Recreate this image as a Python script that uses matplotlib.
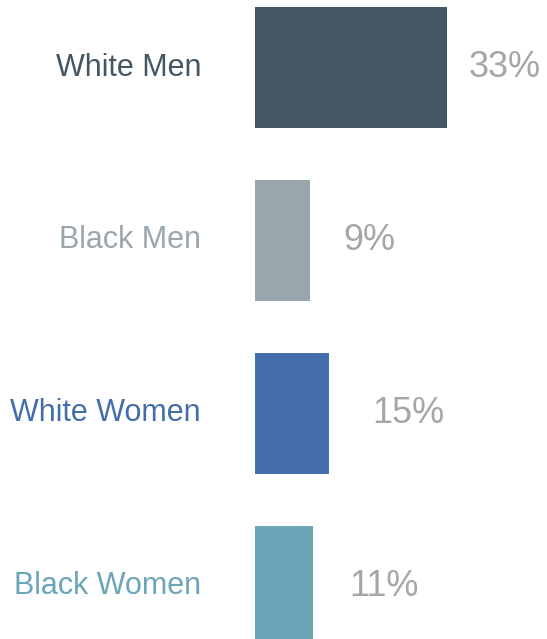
import matplotlib
matplotlib.use("Agg")
import matplotlib.pyplot as plt

categories = ["White Men", "Black Men", "White Women", "Black Women"]
share_labels = ["33%", "9%", "15%", "11%"]
bar_lengths = [33, 9.45, 12.7, 9.97]
colors = ["#435663", "#9aa6ae", "#446dab", "#6aa5b8"]
label_pads = [22, 33, 43, 36]

DPI = 72
W, H = 547, 639
fig = plt.figure(figsize=(W / DPI, H / DPI), dpi=DPI)
ax = fig.add_axes([255 / W, 0, 1 - 255 / W, 1])
ax.set_xlim(0, 292 / (192 / 33))
ax.set_ylim((639 - 67.5) / 173, -67.5 / 173)
ax.axis("off")

ypos = list(range(len(categories)))
ax.barh(ypos, bar_lengths, height=0.70, color=colors, align="center")

font = "Liberation Sans"
for y, cat, lab, val, col, pad in zip(ypos, categories, share_labels, bar_lengths, colors, label_pads):
    ax.annotate(cat, xy=(0, y), xycoords=("axes fraction", "data"),
                xytext=(-54, 0), textcoords="offset points",
                ha="right", va="center", fontsize=30.5, color=col,
                family=font)
    ax.annotate(lab, xy=(val, y), xycoords="data",
                xytext=(pad, 0), textcoords="offset points",
                ha="left", va="center", fontsize=36, color="#a6a6a6",
                family=font)

fig.savefig("out.png", dpi=DPI)
